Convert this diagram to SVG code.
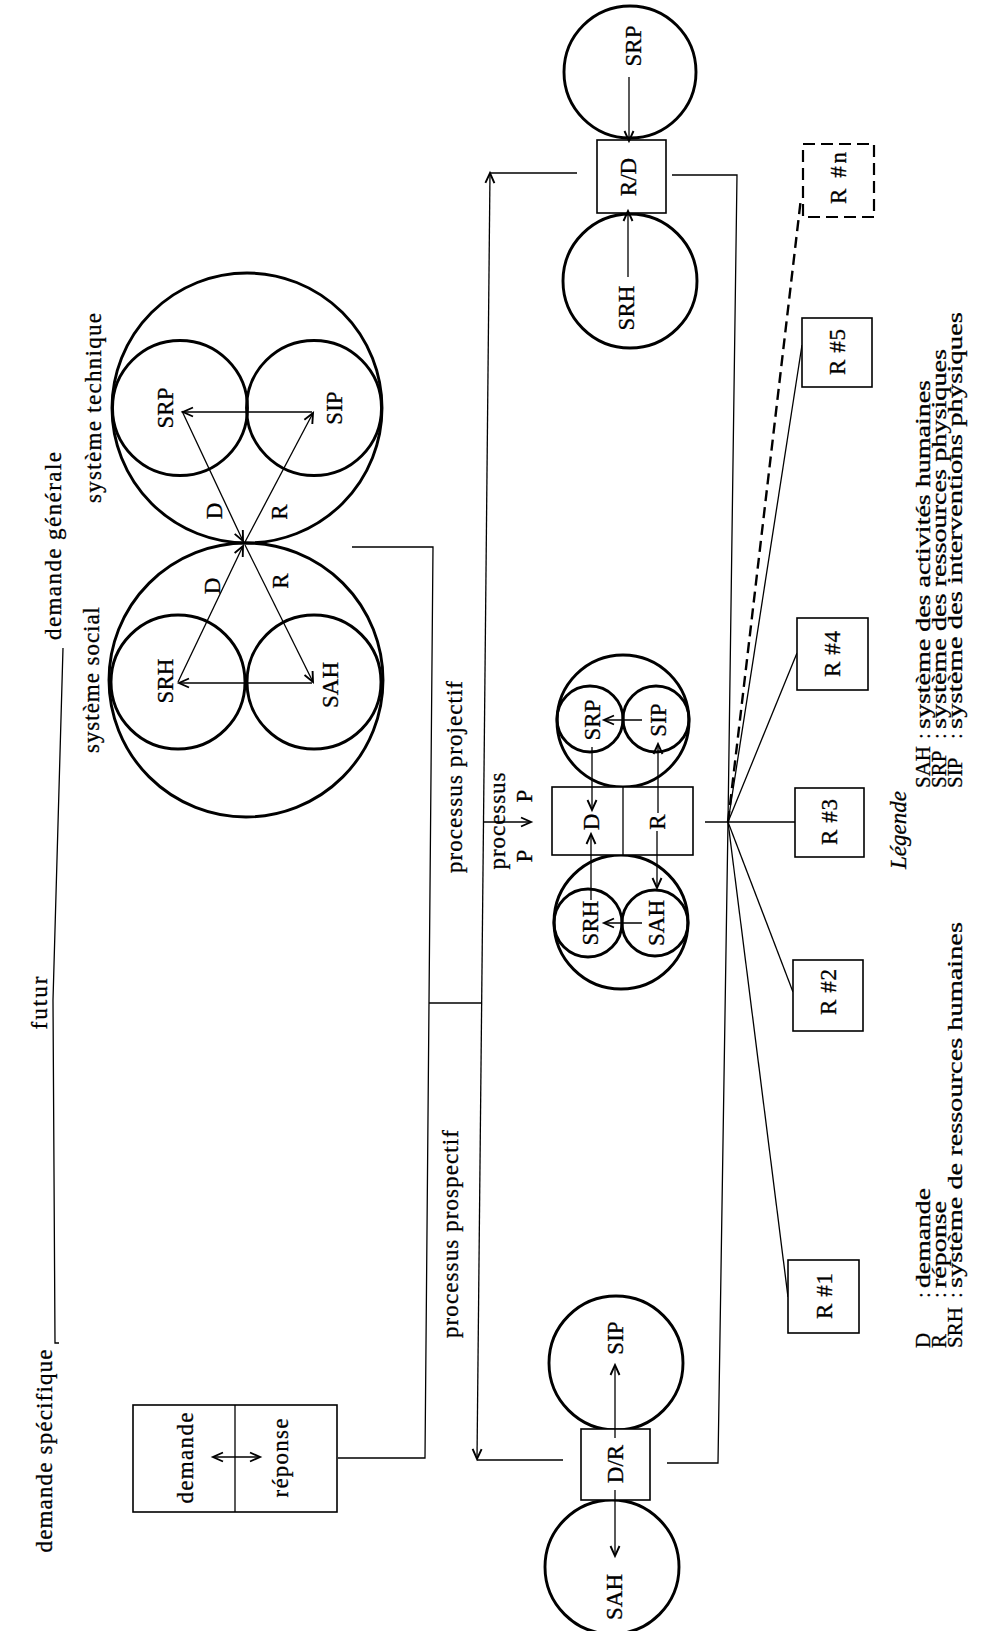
<svg xmlns="http://www.w3.org/2000/svg" width="1005" height="1631" viewBox="0 0 1005 1631">
<defs>
<marker id="ah" markerUnits="userSpaceOnUse" markerWidth="14" markerHeight="14" refX="11" refY="6" orient="auto-start-reverse">
<path d="M1,1.5 L11,6 L1,10.5" fill="none" stroke="#000" stroke-width="1.9"/>
</marker>
<style>
text{font-family:"Liberation Serif","Times New Roman",serif;font-size:23px;fill:#000;stroke:#000;stroke-width:0.3}
.it{font-style:italic}
.c{fill:none;stroke:#000;stroke-width:2.9}
.b{fill:#fff;stroke:#000;stroke-width:1.6}
.bd{fill:#fff;stroke:#000;stroke-width:2.2;stroke-dasharray:12 6}
.l{fill:none;stroke:#000;stroke-width:1.3}
.a{fill:none;stroke:#000;stroke-width:1.3;marker-end:url(#ah)}
.a2{fill:none;stroke:#000;stroke-width:1.3;marker-end:url(#ah);marker-start:url(#ah)}
.d{fill:none;stroke:#000;stroke-width:2.4;stroke-dasharray:11 6}
.lg{font-size:21px}
</style>
</defs>
<rect width="1005" height="1631" fill="#fff"/>

<g id="connectors">
<polyline class="l" points="352,547 433,547 425,1458 338,1458"/>
<line class="l" x1="429" y1="1003" x2="482" y2="1003"/>
<line class="a" x1="483.5" y1="822" x2="490" y2="173"/>
<line class="a" x1="483.5" y1="822" x2="477" y2="1459"/>
<line class="l" x1="490" y1="173" x2="577" y2="173"/>
<line class="l" x1="477" y1="1460" x2="563" y2="1460"/>
<polyline class="l" points="672,175 737,175 728,822 718,1463 667,1463"/>
<line class="l" x1="705" y1="822" x2="795" y2="822"/>
<line class="l" x1="728" y1="822" x2="788" y2="1297"/>
<line class="l" x1="728" y1="822" x2="793" y2="992"/>
<line class="l" x1="728" y1="822" x2="797" y2="653"/>
<line class="l" x1="728" y1="822" x2="802" y2="345"/>
<line class="d" x1="728" y1="822" x2="801" y2="198"/>
<line class="a" x1="484" y1="822" x2="531" y2="822"/>
<polyline class="l" points="63,648 53,1000 55,1343 59,1343"/>
</g>

<g id="labels-free">
<text transform="translate(61,546) rotate(-90)" text-anchor="middle" font-size="20" textLength="188" lengthAdjust="spacing">demande générale</text>
<text transform="translate(47,1003) rotate(-90)" text-anchor="middle" font-size="21" textLength="53" lengthAdjust="spacing">futur</text>
<text transform="translate(52,1451) rotate(-90)" text-anchor="middle" font-size="20" textLength="203" lengthAdjust="spacing">demande spécifique</text>
<text transform="translate(101,408) rotate(-90)" text-anchor="middle" font-size="19" textLength="190" lengthAdjust="spacing">système technique</text>
<text transform="translate(99,680) rotate(-90)" text-anchor="middle" font-size="19" textLength="146" lengthAdjust="spacing">système social</text>
<text transform="translate(462,777) rotate(-90)" text-anchor="middle" font-size="20" textLength="192" lengthAdjust="spacing">processus projectif</text>
<text transform="translate(458,1234) rotate(-90)" text-anchor="middle" font-size="20" textLength="208" lengthAdjust="spacing">processus prospectif</text>
<text transform="translate(505,821) rotate(-90)" text-anchor="middle" font-size="20" textLength="97" lengthAdjust="spacing">processus</text>
<text transform="translate(532,796) rotate(-90)" text-anchor="middle" font-size="20">P</text>
<text transform="translate(532,856) rotate(-90)" text-anchor="middle" font-size="20">P</text>
</g>

<g id="node-specific">
<rect class="b" x="133" y="1405" width="204" height="107"/>
<line class="l" x1="235" y1="1405" x2="235" y2="1512"/>
<text transform="translate(193,1458) rotate(-90)" text-anchor="middle" textLength="91" lengthAdjust="spacing">demande</text>
<text transform="translate(288,1458) rotate(-90)" text-anchor="middle" textLength="79" lengthAdjust="spacing">réponse</text>
<line class="a2" x1="213" y1="1457" x2="260" y2="1457"/>
</g>

<g id="node-technique">
<circle class="c" cx="247" cy="408" r="135"/>
<circle class="c" cx="180" cy="408" r="67.5"/>
<circle class="c" cx="314" cy="408" r="67.5"/>
<text transform="translate(173,408) rotate(-90)" text-anchor="middle">SRP</text>
<text transform="translate(342,408) rotate(-90)" text-anchor="middle">SIP</text>
<text transform="translate(222,511) rotate(-90)" text-anchor="middle">D</text>
<text transform="translate(287,512) rotate(-90)" text-anchor="middle">R</text>
<line class="a" x1="312" y1="412" x2="183" y2="412"/>
<line class="a" x1="182" y1="411" x2="243" y2="541"/>
<line class="a" x1="245" y1="542" x2="313" y2="413"/>
</g>

<g id="node-social">
<circle class="c" cx="246" cy="680" r="137"/>
<circle class="c" cx="178" cy="682" r="67"/>
<circle class="c" cx="314" cy="682" r="67"/>
<text transform="translate(173,681) rotate(-90)" text-anchor="middle">SRH</text>
<text transform="translate(338,685) rotate(-90)" text-anchor="middle">SAH</text>
<text transform="translate(220,586) rotate(-90)" text-anchor="middle">D</text>
<text transform="translate(288,581) rotate(-90)" text-anchor="middle">R</text>
<line class="a" x1="312" y1="683" x2="179" y2="683"/>
<line class="a" x1="178" y1="682" x2="243" y2="546"/>
<line class="a" x1="245" y1="545" x2="313" y2="682"/>
</g>

<g id="node-rd-top">
<circle class="c" cx="630" cy="72" r="66"/>
<circle class="c" cx="630" cy="281" r="67"/>
<rect class="b" x="597" y="140" width="69" height="73"/>
<text transform="translate(636,177) rotate(-90)" text-anchor="middle">R/D</text>
<text transform="translate(641,46) rotate(-90)" text-anchor="middle">SRP</text>
<text transform="translate(634,308) rotate(-90)" text-anchor="middle">SRH</text>
<line class="a" x1="629" y1="77" x2="629" y2="141"/>
<line class="a" x1="628" y1="277" x2="628" y2="211"/>
</g>

<g id="node-dr-bottom">
<circle class="c" cx="616" cy="1363" r="67"/>
<circle class="c" cx="612" cy="1567" r="67"/>
<rect class="b" x="581" y="1429" width="69" height="71"/>
<text transform="translate(623,1464) rotate(-90)" text-anchor="middle">D/R</text>
<text transform="translate(623,1338) rotate(-90)" text-anchor="middle">SIP</text>
<text transform="translate(622,1597) rotate(-90)" text-anchor="middle">SAH</text>
<line class="a" x1="615" y1="1438" x2="615" y2="1365"/>
<line class="a" x1="615" y1="1490" x2="615" y2="1556"/>
</g>

<g id="node-pp">
<circle class="c" cx="623" cy="721" r="66"/>
<circle class="c" cx="590" cy="719" r="33"/>
<circle class="c" cx="656" cy="719" r="33"/>
<circle class="c" cx="621" cy="922" r="67"/>
<circle class="c" cx="588" cy="923" r="34"/>
<circle class="c" cx="655" cy="923" r="33"/>
<rect class="b" x="552" y="787" width="141" height="68"/>
<line class="l" x1="623" y1="787" x2="623" y2="855"/>
<text transform="translate(600,720) rotate(-90)" text-anchor="middle" font-size="22">SRP</text>
<text transform="translate(666,720) rotate(-90)" text-anchor="middle" font-size="22">SIP</text>
<text transform="translate(599,822) rotate(-90)" text-anchor="middle" font-size="22">D</text>
<text transform="translate(665,822) rotate(-90)" text-anchor="middle" font-size="22">R</text>
<text transform="translate(598,923) rotate(-90)" text-anchor="middle" font-size="22">SRH</text>
<text transform="translate(664,923) rotate(-90)" text-anchor="middle" font-size="22">SAH</text>
<line class="a" x1="642" y1="720" x2="604" y2="720"/>
<line class="a" x1="642" y1="923" x2="604" y2="923"/>
<line class="a" x1="592" y1="747" x2="592" y2="810"/>
<line class="a" x1="591" y1="900" x2="591" y2="834"/>
<line class="a" x1="658" y1="813" x2="658" y2="744"/>
<line class="a" x1="657" y1="831" x2="657" y2="888"/>
</g>

<g id="node-r1"><rect class="b" x="788" y="1260" width="71" height="73"/><text transform="translate(832,1296) rotate(-90)" text-anchor="middle" textLength="46" lengthAdjust="spacing">R #1</text></g>
<g id="node-r2"><rect class="b" x="793" y="960" width="70" height="71"/><text transform="translate(836,992) rotate(-90)" text-anchor="middle" textLength="46" lengthAdjust="spacing">R #2</text></g>
<g id="node-r3"><rect class="b" x="795" y="788" width="69" height="69"/><text transform="translate(837,822) rotate(-90)" text-anchor="middle" textLength="46" lengthAdjust="spacing">R #3</text></g>
<g id="node-r4"><rect class="b" x="797" y="618" width="71" height="72"/><text transform="translate(840,654) rotate(-90)" text-anchor="middle" textLength="46" lengthAdjust="spacing">R #4</text></g>
<g id="node-r5"><rect class="b" x="802" y="318" width="70" height="69"/><text transform="translate(845,352) rotate(-90)" text-anchor="middle" textLength="46" lengthAdjust="spacing">R #5</text></g>
<g id="node-rn"><rect class="bd" x="803" y="144" width="71" height="73"/><text transform="translate(846,178) rotate(-90)" text-anchor="middle" textLength="52" lengthAdjust="spacing">R #n</text></g>

<g id="legend">
<text class="it" transform="translate(906,830) rotate(-90)" text-anchor="middle" font-size="22">Légende</text>
<text class="lg" transform="translate(930,1348) rotate(-90)">D</text>
<text class="lg" transform="translate(930,1298) rotate(-90)">:</text>
<text class="lg" transform="translate(930,1288) rotate(-90)" textLength="100" lengthAdjust="spacingAndGlyphs">demande</text>
<text class="lg" transform="translate(946,1348) rotate(-90)">R</text>
<text class="lg" transform="translate(946,1298) rotate(-90)">:</text>
<text class="lg" transform="translate(946,1288) rotate(-90)" textLength="87" lengthAdjust="spacingAndGlyphs">réponse</text>
<text class="lg" transform="translate(962,1348) rotate(-90)">SRH</text>
<text class="lg" transform="translate(962,1298) rotate(-90)">:</text>
<text class="lg" transform="translate(962,1288) rotate(-90)" textLength="366" lengthAdjust="spacingAndGlyphs">système de ressources humaines</text>
<text class="lg" transform="translate(930,788) rotate(-90)">SAH</text>
<text class="lg" transform="translate(930,739) rotate(-90)">:</text>
<text class="lg" transform="translate(930,729) rotate(-90)" textLength="349" lengthAdjust="spacingAndGlyphs">système des activités humaines</text>
<text class="lg" transform="translate(946,788) rotate(-90)">SRP</text>
<text class="lg" transform="translate(946,739) rotate(-90)">:</text>
<text class="lg" transform="translate(946,729) rotate(-90)" textLength="380" lengthAdjust="spacingAndGlyphs">système des ressources physiques</text>
<text class="lg" transform="translate(962,788) rotate(-90)">SIP</text>
<text class="lg" transform="translate(962,739) rotate(-90)">:</text>
<text class="lg" transform="translate(962,729) rotate(-90)" textLength="417" lengthAdjust="spacingAndGlyphs">système des interventions physiques</text>
</g>
</svg>
